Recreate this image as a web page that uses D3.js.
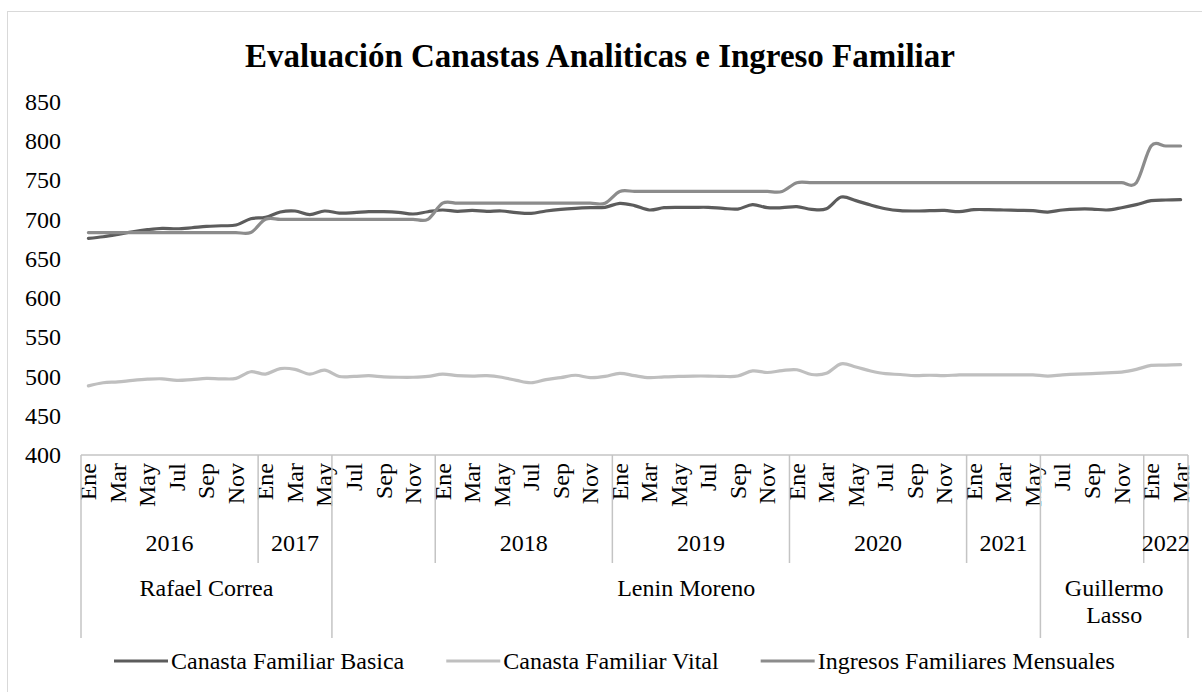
<!DOCTYPE html>
<html><head><meta charset="utf-8">
<script src="https://cdn.jsdelivr.net/npm/d3@7"></script>
<style>
body{margin:0;background:#fff}
text{font-family:"Liberation Serif","Times New Roman",serif;fill:#000}
</style>
</head><body>
<svg id="chart" width="1202" height="692"></svg>
<script>
const title = "Evaluación Canastas Analiticas e Ingreso Familiar";
const seriesNames = ["Canasta Familiar Basica","Canasta Familiar Vital","Ingresos Familiares Mensuales"];
const seriesColors = ["#5c5c5c","#bfbfbf","#8c8c8c"];

const categories = [
 "Ene","Feb","Mar","Abr","May","Jun","Jul","Ago","Sep","Oct","Nov","Dic",
 "Ene","Feb","Mar","Abr","May","Jun","Jul","Ago","Sep","Oct","Nov","Dic",
 "Ene","Feb","Mar","Abr","May","Jun","Jul","Ago","Sep","Oct","Nov","Dic",
 "Ene","Feb","Mar","Abr","May","Jun","Jul","Ago","Sep","Oct","Nov","Dic",
 "Ene","Feb","Mar","Abr","May","Jun","Jul","Ago","Sep","Oct","Nov","Dic",
 "Ene","Feb","Mar","Abr","May","Jun","Jul","Ago","Sep","Oct","Nov","Dic",
 "Ene","Feb","Mar"];

const yearGroups = [
 {label:"2016",from:0,to:12},{label:"2017",from:12,to:17},{label:"",from:17,to:24},
 {label:"2018",from:24,to:36},{label:"2019",from:36,to:48},{label:"2020",from:48,to:60},
 {label:"2021",from:60,to:65},{label:"",from:65,to:72},{label:"2022",from:72,to:75}];
const presidentGroups = [
 {label:["Rafael Correa"],from:0,to:17},
 {label:["Lenin Moreno"],from:17,to:65},
 {label:["Guillermo","Lasso"],from:65,to:75}];

const basica = [
 675.8,677.8,680.8,684.2,686.8,688.5,688.0,689.3,691.0,691.8,692.7,700.8,
 702.5,709.3,710.6,705.9,710.6,708.0,708.5,709.7,709.7,708.9,706.8,709.7,
 711.9,710.2,711.4,710.2,710.6,708.5,707.6,710.6,712.7,714.0,714.8,715.3,
 720.4,717.5,711.9,714.8,715.3,715.3,715.3,714.0,713.1,718.7,714.8,714.8,
 716.1,712.7,713.5,728.4,723.8,718.2,713.5,711.0,710.6,711.0,711.4,709.7,
 712.3,712.3,711.9,711.4,711.0,709.3,711.9,713.1,713.1,711.9,714.8,718.7,
 723.8,724.6,725.0];
const vital = [
 488,492,493,495,496.5,497,495,496,497.5,497,497.5,506,
 503,510,509,503,508,500,500,501,499.5,499,499,500,
 503,501,500.5,501,499,495,492,496,498.5,501.5,498.5,500,
 504,501,498.5,499.5,500,500.5,500.5,500,500.5,507,505,507.5,
 508.5,502.5,504,516,512,507,503.5,502.5,501,501.5,501,502,
 502,502,502,502,502,500.5,502,503,503.5,504.5,505.5,509,
 514,514.5,515];
const ingresos = [
 683.2,683.2,683.2,683.2,683.2,683.2,683.2,683.2,683.2,683.2,683.2,683.2,
 700,700,700,700,700,700,700,700,700,700,700,700,
 720.53,720.53,720.53,720.53,720.53,720.53,720.53,720.53,720.53,720.53,720.53,720.53,
 735.47,735.47,735.47,735.47,735.47,735.47,735.47,735.47,735.47,735.47,735.47,735.47,
 746.67,746.67,746.67,746.67,746.67,746.67,746.67,746.67,746.67,746.67,746.67,746.67,
 746.67,746.67,746.67,746.67,746.67,746.67,746.67,746.67,746.67,746.67,746.67,746.67,
 793.33,793.33,793.33];
const yTicks = [400,450,500,550,600,650,700,750,800,850];

const svg = d3.select("#chart");
const plot = {left:81, right:1188, top:101.5, bottom:455};

svg.append("rect").attr("x",7.5).attr("y",11.5).attr("width",1230).attr("height",700)
  .attr("fill","#fff").attr("stroke","#d9d9d9").attr("stroke-width",1);

svg.append("text").attr("x",600).attr("y",67).attr("text-anchor","middle")
  .attr("font-size",33).attr("font-weight","bold").text(title);

const x = d3.scaleBand().domain(d3.range(categories.length)).range([plot.left, plot.right]).padding(0);
const cx = i => x(i) + x.bandwidth()/2;
const edgeX = e => e>=categories.length ? plot.right : x(e);
const y = d3.scaleLinear().domain([400,850]).range([plot.bottom, plot.top]);

// y axis labels
const yAxis = d3.axisLeft(y).tickValues(yTicks).tickSize(0).tickPadding(0);
const gy = svg.append("g").attr("transform","translate(61,0)").call(yAxis);
gy.attr("font-family",null).attr("font-size",null);
gy.select(".domain").remove();
gy.selectAll("text").attr("font-size",24).attr("fill","#000");

// category axis line
const axisColor = "#c4c4c4";
svg.append("line").attr("x1",plot.left).attr("x2",plot.right).attr("y1",plot.bottom).attr("y2",plot.bottom)
  .attr("stroke",axisColor).attr("stroke-width",1.5);

// month labels
const gm = svg.append("g");
categories.forEach((c,i)=>{
  if(i%2!==0) return;
  gm.append("text").attr("transform",`translate(${cx(i)},463) rotate(-90)`)
    .attr("text-anchor","end").attr("dy","0.33em").attr("font-size",24).text(c);
});

// separators
const yearBottom = 563, presBottom = 638;
const presEdges = new Set();
presidentGroups.forEach(g=>{presEdges.add(g.from);presEdges.add(g.to);});
const yearEdges = new Set();
yearGroups.forEach(g=>{yearEdges.add(g.from);yearEdges.add(g.to);});
yearEdges.forEach(e=>{
  const xx = edgeX(e);
  const bottom = presEdges.has(e) ? presBottom : yearBottom;
  svg.append("line").attr("x1",xx).attr("x2",xx).attr("y1",plot.bottom).attr("y2",bottom)
    .attr("stroke",axisColor).attr("stroke-width",1.5);
});
yearGroups.forEach(g=>{
  if(!g.label) return;
  svg.append("text").attr("x",(edgeX(g.from)+edgeX(g.to))/2).attr("y",551)
    .attr("text-anchor","middle").attr("font-size",24).text(g.label);
});
presidentGroups.forEach(g=>{
  g.label.forEach((l,k)=>{
    svg.append("text").attr("x",(edgeX(g.from)+edgeX(g.to))/2).attr("y",596+k*26.5)
      .attr("text-anchor","middle").attr("font-size",24).text(l);
  });
});

// lines
const line = d3.line().x((d,i)=>cx(i)).y(d=>y(d)).curve(d3.curveCardinal.tension(0));
[basica, vital, ingresos].forEach((s,k)=>{
  svg.append("path").datum(s).attr("d",line).attr("fill","none")
    .attr("stroke",seriesColors[k]).attr("stroke-width",3.2).attr("stroke-linecap","round");
});

// legend
const legendY = 661;
const lg = svg.append("g");
let lx = 114;
const lineLen = 54, gapAfterLine = 3, gapAfterText = 42;
seriesNames.forEach((n,k)=>{
  lg.append("line").attr("x1",lx).attr("x2",lx+lineLen).attr("y1",legendY).attr("y2",legendY)
    .attr("stroke",seriesColors[k]).attr("stroke-width",3.2);
  const t = lg.append("text").attr("x",lx+lineLen+gapAfterLine).attr("y",legendY).attr("dy","0.33em")
    .attr("font-size",24).text(n);
  lx += lineLen + gapAfterLine + t.node().getComputedTextLength() + gapAfterText;
});
</script>
</body></html>
